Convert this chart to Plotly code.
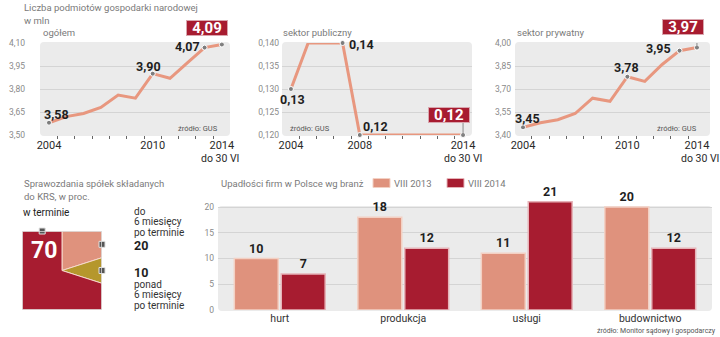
import math
import plotly.graph_objects as go

W, H = 720, 337

# ---------------- data ----------------
years = list(range(2004, 2015))
total_mln = [3.58, 3.62, 3.64, 3.68, 3.76, 3.74, 3.90, 3.87, 3.97, 4.07, 4.09]
public_mln = [0.13, 0.14, 0.14, 0.14, 0.12, 0.12, 0.12, 0.12, 0.12, 0.12, 0.12]
private_mln = [3.45, 3.48, 3.50, 3.54, 3.64, 3.62, 3.78, 3.75, 3.86, 3.95, 3.97]
year_ticks_a = [2004, 2010, 2014]
year_ticks_b = [2004, 2008, 2014]
year_last_note = "do 30 VI"
panel_titles = ["ogółem", "sektor publiczny", "sektor prywatny"]
main_title = ["Liczba podmiotów gospodarki narodowej", "w mln"]
source_gus = "źródło: GUS"

report_shares = [20, 10, 70]          # clockwise from 12 o'clock
report_title = ["Sprawozdania spółek składanych", "do KRS, w proc."]
label_on_time = "w terminie"
label_6m = ["do", "6 miesięcy", "po terminie"]
label_over6m = ["ponad", "6 miesięcy", "po terminie"]

branches = ["hurt", "produkcja", "usługi", "budownictwo"]
bankrupt_2013 = [10, 18, 11, 20]
bankrupt_2014 = [7, 12, 21, 12]
series_names = ["VIII 2013", "VIII 2014"]
bar_title = "Upadłości firm w Polsce wg branż"
bar_source = "źródło: Monitor sądowy i gospodarczy"

# ---------------- style ----------------
SALMON = "#DF927D"
DARK = "#A71C30"
OLIVE = "#B5972C"
LINE = "#E8977F"
BG = "#EBEBEB"
GRID = "#D4D4D4"
FONT = "Roboto, 'Open Sans', sans-serif"


def px(x):
    return x / W


def py(y):
    return 1 - y / H


def dom_x(a, b):
    return [a / W, b / W]


def dom_y(top, bottom):
    return [1 - bottom / H, 1 - top / H]


def fmt(v):
    return f"{v:.2f}".replace(".", ",")


def rrect(x0, y0, x1, y1, r=4):
    X, Y = px, py
    return (f"M {X(x0 + r)},{Y(y0)} L {X(x1 - r)},{Y(y0)} Q {X(x1)},{Y(y0)} {X(x1)},{Y(y0 + r)} "
            f"L {X(x1)},{Y(y1 - r)} Q {X(x1)},{Y(y1)} {X(x1 - r)},{Y(y1)} "
            f"L {X(x0 + r)},{Y(y1)} Q {X(x0)},{Y(y1)} {X(x0)},{Y(y1 - r)} "
            f"L {X(x0)},{Y(y0 + r)} Q {X(x0)},{Y(y0)} {X(x0 + r)},{Y(y0)} Z")


fig = go.Figure()
annotations = []
shapes = []


def note(x, y, s, size=9.5, color="#7a7a7a", anchor="left", bold=False):
    annotations.append(dict(
        xref="paper", yref="paper", x=px(x), y=py(y), text=s, showarrow=False,
        xanchor=anchor, yanchor="middle",
        font=dict(family=FONT, size=size, color=color,
                  weight="bold" if bold else "normal")))


# ---------------- three line panels ----------------
panels = [
    dict(vals=total_mln, n="", xdom=(40, 230), xr=[2003.48, 2014.47], yr=[3.5, 4.1],
         dtick=0.15, tf=".2f", ticks=year_ticks_a, stand=14,
         labels=[(0, "center", 7.5, 8), (6, "center", -4, 7), (9, "right", -3, 1)],
         box=(10, -14.5, 17), src=(220, "right"), note_x=220),
    dict(vals=public_mln, n="2", xdom=(282, 472), xr=[2003.48, 2014.52], yr=[0.12, 0.14],
         dtick=0.005, tf=".3f", ticks=year_ticks_b, stand=2,
         labels=[(0, "center", 1.5, -11), (3, "left", 4, -2), (4, "center", 16, 9)],
         box=(10, -14.5, 20), src=(288, "left"), note_x=463),
    dict(vals=private_mln, n="3", xdom=(515, 710), xr=[2003.54, 2014.75], yr=[3.4, 4.0],
         dtick=0.15, tf=".2f", ticks=year_ticks_a, stand=3,
         labels=[(0, "center", 4.5, 9), (6, "center", -1, 9), (9, "right", -7, 2)],
         box=(10, -14, 20.5), src=(699, "right"), note_x=700),
]

layout_axes = {}
for i, p in enumerate(panels):
    xa, ya = "x" + p["n"], "y" + p["n"]
    shapes.append(dict(type="path", xref="paper", yref="paper", layer="below",
                       path=rrect(p["xdom"][0], 42, p["xdom"][1], 136),
                       fillcolor=BG, line=dict(width=0)))
    fig.add_trace(go.Scatter(x=years, y=p["vals"], mode="lines", xaxis=xa, yaxis=ya,
                             line=dict(color=LINE, width=3), hoverinfo="skip",
                             cliponaxis=False))
    idxs = [l[0] for l in p["labels"]] + [p["box"][0]]
    fig.add_trace(go.Scatter(x=[years[k] for k in idxs], y=[p["vals"][k] for k in idxs],
                             mode="markers", xaxis=xa, yaxis=ya, cliponaxis=False,
                             marker=dict(size=5, color="#7d7d7d",
                                         line=dict(color="white", width=1)),
                             hoverinfo="skip"))
    for k, anc, xs, ys in p["labels"]:
        annotations.append(dict(xref=xa, yref=ya, x=years[k], y=p["vals"][k],
                                text=fmt(p["vals"][k]), showarrow=False,
                                xanchor=anc, yanchor="middle", xshift=xs, yshift=ys,
                                font=dict(family=FONT, size=12.5, color="#1e1e1e",
                                          weight="bold")))
    k, xs, ys = p["box"]
    annotations.append(dict(xref=xa, yref=ya, x=years[k], y=p["vals"][k],
                            text=fmt(p["vals"][k]), showarrow=False,
                            xanchor="center", yanchor="middle", xshift=xs, yshift=ys,
                            bgcolor=DARK, bordercolor="#D9A6AE", borderwidth=1,
                            width=40, height=14, borderpad=0,
                            font=dict(family=FONT, size=15, color="white",
                                      weight="bold")))
    shapes.append(dict(type="line", xref=xa, yref=ya, ysizemode="pixel",
                       yanchor=p["vals"][k], x0=years[k], x1=years[k], y0=0, y1=ys - 8,
                       line=dict(color="#8a8a8a", width=1)))
    layout_axes["xaxis" + p["n"]] = dict(
        domain=dom_x(*p["xdom"]), range=p["xr"], anchor=ya,
        tickmode="array", tickvals=p["ticks"], ticktext=[str(t) for t in p["ticks"]],
        ticks="", ticklabelstandoff=2,
        showgrid=False, zeroline=False, showline=False, fixedrange=True,
        tickfont=dict(family=FONT, size=11, color="#2a2a2a"),
        minor=dict(tickmode="array", tickvals=[y + 0.5 for y in years[:-1]],
                   ticks="outside", ticklen=3, tickcolor="#666", tickwidth=1,
                   showgrid=False),
        automargin=False)
    layout_axes["yaxis" + p["n"]] = dict(
        domain=dom_y(43, 135), range=p["yr"], anchor=xa, tick0=p["yr"][0],
        dtick=p["dtick"], tickformat=p["tf"], showgrid=True, gridcolor=GRID,
        gridwidth=1, zeroline=False, showline=False, ticks="", fixedrange=True,
        ticklabelstandoff=p["stand"],
        tickfont=dict(family=FONT, size=8.5, color="#8a8a8a"), automargin=False)
    note(p["src"][0], 128, source_gus, size=7.5, color="#555", anchor=p["src"][1])
    note(p["note_x"], 158.5, year_last_note, size=10.5, color="#2a2a2a", anchor="center")

note(22, 7, main_title[0])
note(22, 20, main_title[1])
note(41, 33, panel_titles[0])
note(281, 33, panel_titles[1])
note(515, 33, panel_titles[2])

# ---------------- square "pie" ----------------
corners = {45: (1, 1), 135: (1, -1), 225: (-1, -1), 315: (-1, 1)}


def ray(theta):
    dx, dy = math.sin(math.radians(theta)), math.cos(math.radians(theta))
    t = 1 / max(abs(dx), abs(dy))
    return dx * t, dy * t


def edge_mid(a0, a1, edge):
    pts = [ray(a0 + (a1 - a0) * j / 400) for j in range(401)]
    if edge == "right":
        v = [q[1] for q in pts if abs(q[0] - 1) < 1e-6]
        return 1.0, (min(v) + max(v)) / 2
    v = [q[0] for q in pts if abs(q[1] - 1) < 1e-6]
    return (min(v) + max(v)) / 2, 1.0


wedge_colors = [SALMON, OLIVE, DARK]
marker_edges = ["right", "right", "top"]
start = 0.0
marks = []
for s, col, edge in zip(report_shares, wedge_colors, marker_edges):
    a0, a1 = start, start + s * 3.6
    pts = [(0, 0), ray(a0)] + [corners[c] for c in sorted(corners) if a0 < c < a1] + [ray(a1), (0, 0)]
    fig.add_trace(go.Scatter(x=[q[0] for q in pts], y=[q[1] for q in pts], mode="lines",
                             fill="toself", fillcolor=col, xaxis="x4", yaxis="y4",
                             line=dict(color="#F6D8CB", width=1), hoverinfo="skip"))
    marks.append((edge_mid(a0, a1, edge), edge))
    start = a1

for (mx, my), edge in marks:
    if edge == "right":
        lx, ly = [mx, mx + 0.67], [my, my]
    else:
        lx, ly = [mx, mx], [my, my + 0.33]
    fig.add_trace(go.Scatter(x=lx, y=ly, mode="lines", xaxis="x4", yaxis="y4",
                             cliponaxis=False, line=dict(color="#777", width=1),
                             hoverinfo="skip"))
fig.add_trace(go.Scatter(x=[m[0][0] for m in marks], y=[m[0][1] for m in marks],
                         mode="markers", xaxis="x4", yaxis="y4", cliponaxis=False,
                         marker=dict(symbol="square", size=6, color="#555",
                                     line=dict(color="#e0e0e0", width=1)),
                         hoverinfo="skip"))
shapes.append(dict(type="rect", xref="x4", yref="y4", x0=-1, x1=1, y0=-1, y1=1,
                   line=dict(color="#DCDCDC", width=1.5)))
layout_axes["xaxis4"] = dict(domain=dom_x(22, 102), range=[-1, 1], visible=False,
                             anchor="y4", fixedrange=True)
layout_axes["yaxis4"] = dict(domain=dom_y(231, 310), range=[-1, 1], visible=False,
                             anchor="x4", fixedrange=True)

note(22, 183, report_title[0])
note(22, 196, report_title[1])
note(21, 212, label_on_time, size=10, color="#222")
note(43.5, 250, str(report_shares[2]), size=23, color="white", anchor="center", bold=True)
for j, s in enumerate(label_6m):
    note(132, 211 + 10.5 * j, s, size=10, color="#333")
note(132, 245, str(report_shares[0]), size=12.5, color="#1e1e1e", bold=True)
note(132, 272, str(report_shares[1]), size=12.5, color="#1e1e1e", bold=True)
for j, s in enumerate(label_over6m):
    note(132, 284 + 10.5 * j, s, size=10, color="#333")

# ---------------- bar chart ----------------
shapes.append(dict(type="path", xref="paper", yref="paper", layer="below",
                   path=rrect(218, 206, 712, 311), fillcolor=BG, line=dict(width=0)))
for vals, col, edge, name in [(bankrupt_2013, SALMON, "#F3D0C3", series_names[0]),
                              (bankrupt_2014, DARK, "#E6B3B8", series_names[1])]:
    fig.add_trace(go.Bar(x=branches, y=vals, name=name, xaxis="x5", yaxis="y5",
                         marker=dict(color=col, line=dict(color=edge, width=1.5)),
                         text=[str(v) for v in vals], textposition="outside",
                         cliponaxis=False, hoverinfo="skip",
                         textfont=dict(family=FONT, size=12.5, color="#1e1e1e",
                                       weight="bold")))
bar_top = 310 - 103 / 20 * 21.6
layout_axes["xaxis5"] = dict(domain=dom_x(218, 712), anchor="y5", showgrid=False,
                             zeroline=False, ticks="", fixedrange=True,
                             tickfont=dict(family=FONT, size=10.5, color="#333"),
                             automargin=False)
layout_axes["yaxis5"] = dict(domain=dom_y(bar_top, 310), range=[0, 21.6], anchor="x5",
                             tickvals=[0, 5, 10, 15, 20], showgrid=True, gridcolor=GRID,
                             zeroline=False, ticks="", ticklabelstandoff=3, fixedrange=True,
                             tickfont=dict(family=FONT, size=8.5, color="#8a8a8a"),
                             automargin=False)

note(219, 183, bar_title)
for x0, col, edge, name in [(373, SALMON, "#F3D0C3", series_names[0]),
                            (447, DARK, "#E6B3B8", series_names[1])]:
    shapes.append(dict(type="rect", xref="paper", yref="paper", x0=px(x0), x1=px(x0 + 17),
                       y0=py(187.5), y1=py(178.5), fillcolor=col,
                       line=dict(color=edge, width=1)))
    note(x0 + 19, 183, name)
note(718, 331, bar_source, size=7, color="#555", anchor="right")

fig.update_layout(
    width=W, height=H, margin=dict(l=0, r=0, t=0, b=0),
    paper_bgcolor="white", plot_bgcolor="rgba(0,0,0,0)", showlegend=False,
    separators=", ", barmode="group", bargap=0.24, bargroupgap=0.064,
    annotations=annotations, shapes=shapes, font=dict(family=FONT),
    **layout_axes)

fig.write_html("out.html")
